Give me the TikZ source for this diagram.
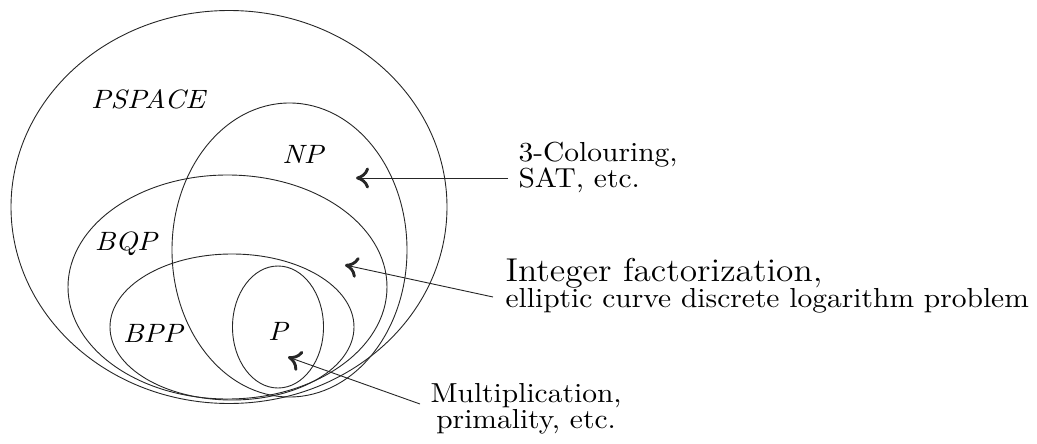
\documentclass[tikz,border=0pt]{standalone}
\usetikzlibrary{arrows.meta,shapes.geometric}
\begin{document}
\begin{tikzpicture}[x=1pt,y=-1pt,
  cset/.style={draw=black!85, line width=0.9pt, ellipse, inner sep=0pt},
  cls/.style={font=\itshape, xscale=2.9, yscale=2.65, inner sep=0pt, anchor=base},
  note/.style={xscale=2.95, yscale=2.75, inner sep=0pt, anchor=base west,
    font=\fontsize{10}{9.4}\selectfont},
  ptr/.style={draw=black!85, line width=0.9pt,
    -{Computer Modern Rightarrow[length=13pt,width=21pt,line width=2.9pt]}}]
\useasboundingbox (0,0) rectangle (1037,444);

% complexity classes
\node[cset, minimum width=436pt, minimum height=393pt] (pspace) at (229,207) {};
\node[cset, minimum width=235pt, minimum height=294pt] (np)     at (289.5,250) {};
\node[cset, minimum width=319pt, minimum height=224pt] (bqp)    at (227.5,287) {};
\node[cset, minimum width=244pt, minimum height=146pt] (bpp)    at (232,327) {};
\node[cset, minimum width=91pt,  minimum height=122pt] (p)      at (278,327) {};

\node[cls] (lpspace) at (148,108) {PSPACE};
\node[cls] (lnp)     at (303,163) {NP};
\node[cls] (lbqp)    at (126,250) {BQP};
\node[cls] (lbpp)    at (153,342) {BPP};
\node[cls] (lp)      at (278,340) {P};

% example problems (anchored at the baseline of the last line)
\node[note, align=left] (sat) at (518,187) {3-Colouring,\\ SAT, etc.};
\node[note, align=left] (fact) at (505,307)
  {{\large Integer factorization,}\\ elliptic curve discrete logarithm problem};
\node[note, align=center] (mult) at (430,428) {Multiplication,\\ primality, etc.};

% pointers into the classes
\coordinate (inNP)  at (356,178);
\coordinate (inBQP) at (345,265);
\coordinate (inP)   at (288,357);
\coordinate (fromSat)  at (508,178);
\coordinate (fromFact) at (493,297);
\coordinate (fromMult) at (420,404);

\draw[ptr] (fromSat)  -- (inNP);
\draw[ptr] (fromFact) -- (inBQP);
\draw[ptr] (fromMult) -- (inP);
\end{tikzpicture}
\end{document}
